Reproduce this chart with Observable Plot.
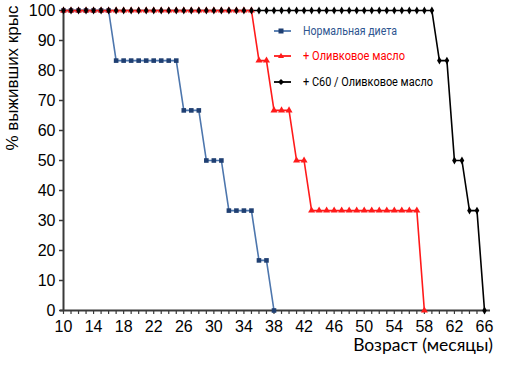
<!DOCTYPE html>
<html>
<head>
<meta charset="utf-8">
<script src="https://cdn.jsdelivr.net/npm/d3@7"></script>
<script src="https://cdn.jsdelivr.net/npm/@observablehq/plot@0.6"></script>
<style>
  html, body { margin: 0; padding: 0; background: #fff; }
  #wrap { position: relative; width: 512px; height: 384px; overflow: hidden; }
  #legend { position: absolute; left: 272px; top: 22px; font-family: Roboto, "Noto Sans", sans-serif; font-size: 12.5px; }
  #legend .row { position: absolute; left: 0; white-space: nowrap; height: 18px; line-height: 18px; }
  #legend svg { position: absolute; left: 0; top: 0; }
  #legend span { position: absolute; left: 31px; top: 0; transform-origin: 0 50%; display: inline-block; }
  #xtitle { position: absolute; right: 19px; top: 335px; font-family: Lato, Roboto, sans-serif; font-size: 17.5px; line-height: 20px; color: #000; white-space: nowrap; }
</style>
</head>
<body>
<div id="wrap"></div>
<script>
// Ages (months)
const monthsNormal = [10,11,12,13,14,15,16,17,18,19,20,21,22,23,24,25,26,27,28,29,30,31,32,33,34,35,36,37,38];
const survNormal   = [100,100,100,100,100,100,100,83.3,83.3,83.3,83.3,83.3,83.3,83.3,83.3,83.3,66.7,66.7,66.7,50,50,50,33.3,33.3,33.3,33.3,16.7,16.7,0];

const monthsOlive = [10,11,12,13,14,15,16,17,18,19,20,21,22,23,24,25,26,27,28,29,30,31,32,33,34,35,36,37,38,39,40,41,42,43,44,45,46,47,48,49,50,51,52,53,54,55,56,57,58];
const survOlive   = [100,100,100,100,100,100,100,100,100,100,100,100,100,100,100,100,100,100,100,100,100,100,100,100,100,100,83.3,83.3,66.7,66.7,66.7,50,50,33.3,33.3,33.3,33.3,33.3,33.3,33.3,33.3,33.3,33.3,33.3,33.3,33.3,33.3,33.3,0];

const monthsC60 = [10,11,12,13,14,15,16,17,18,19,20,21,22,23,24,25,26,27,28,29,30,31,32,33,34,35,36,37,38,39,40,41,42,43,44,45,46,47,48,49,50,51,52,53,54,55,56,57,58,59,60,61,62,63,64,65,66];
const survC60   = [100,100,100,100,100,100,100,100,100,100,100,100,100,100,100,100,100,100,100,100,100,100,100,100,100,100,100,100,100,100,100,100,100,100,100,100,100,100,100,100,100,100,100,100,100,100,100,100,100,100,83.3,83.3,50,50,33.3,33.3,0];

const seriesNames = ["Нормальная диета", "+ Оливковое масло", "+ C60 / Оливковое масло"];
const xTickMinor = [10,11,12,13,14,15,16,17,18,19,20,21,22,23,24,25,26,27,28,29,30,31,32,33,34,35,36,37,38,39,40,41,42,43,44,45,46,47,48,49,50,51,52,53,54,55,56,57,58,59,60,61,62,63,64,65,66];
const xTickLabels = [10,14,18,22,26,30,34,38,42,46,50,54,58,62,66];
const yTicks = [0,10,20,30,40,50,60,70,80,90,100];
const xTitle = "Возраст (месяцы)";
const yTitle = "% выживших крыс";

const toRows = (ms, vs) => ms.map((m, i) => ({month: m, surv: vs[i]}));
const dNormal = toRows(monthsNormal, survNormal);
const dOlive = toRows(monthsOlive, survOlive);
const dC60 = toRows(monthsC60, survC60);

const cBlueLine = "#4d76ad", cBlueMark = "#1f3f72", cRed = "#ff1a1a", cBlack = "#000000";
const axisColor = "#3a3a3a";
const tickFont = "'Liberation Sans', Arial, sans-serif";

const chart = Plot.plot({
  width: 512, height: 384,
  marginLeft: 63, marginRight: 28, marginTop: 10, marginBottom: 74,
  x: {domain: [10, 66], axis: null},
  y: {domain: [0, 100], axis: null},
  style: {fontFamily: tickFont, background: "transparent"},
  marks: [
    // axes
    Plot.axisY({ticks: yTicks, tickSize: 4, tickPadding: 4, fontSize: 16, stroke: axisColor, strokeWidth: 1.5, color: "#000", label: null}),
    Plot.axisX({ticks: xTickMinor, tickSize: 4, tickFormat: () => "", stroke: axisColor, strokeWidth: 1.2, label: null}),
    Plot.axisX({ticks: xTickLabels, tickSize: 0, tickPadding: 10, fontSize: 16, label: null}),
    Plot.ruleX([10], {y1: 0, y2: 100, stroke: axisColor, strokeWidth: 2}),
    Plot.ruleY([0], {x1: 9.6, x2: 66.8, stroke: axisColor, strokeWidth: 2}),
    // lines
    Plot.line(dNormal, {x: "month", y: "surv", stroke: cBlueLine, strokeWidth: 1.6}),
    Plot.line(dC60, {x: "month", y: "surv", stroke: cBlack, strokeWidth: 1.6}),
    Plot.line(dOlive, {x: "month", y: "surv", stroke: cRed, strokeWidth: 1.6}),
    // markers
    Plot.dot(dNormal, {x: "month", y: "surv", symbol: "square", r: 2.6, fill: cBlueMark, stroke: "none"}),
    Plot.dot(dOlive, {x: "month", y: "surv", symbol: "triangle", r: 2.6, fill: cRed, stroke: "none"}),
    Plot.dot(dC60, {x: "month", y: "surv", symbol: "diamond", r: 2.4, fill: cBlack, stroke: "none"}),
    // y title
    Plot.text([yTitle], {frameAnchor: "left", dx: -51, dy: -10, rotate: -90, fontSize: 17, fill: "#000"}),
  ]
});

const wrap = document.getElementById("wrap");
wrap.appendChild(chart);

// x title
const xt = document.createElement("div");
xt.id = "xtitle";
xt.textContent = xTitle;
wrap.appendChild(xt);

// legend
const legend = document.createElement("div");
legend.id = "legend";
const legendColors = [[cBlueLine, cBlueMark, "#2e5590", "square"], [cRed, cRed, "#ff0000", "triangle"], [cBlack, cBlack, "#000000", "diamond"]];
const legendTops = [0, 25, 51];
const legendTextWidths = [94, 102, 130]; // layout: text widths seen in the reference
const spans = [];
seriesNames.forEach((name, i) => {
  const [lc, mc, tc, sym] = legendColors[i];
  const row = document.createElement("div");
  row.className = "row";
  row.style.top = legendTops[i] + "px";
  let mark;
  if (sym === "square") mark = `<rect x="6.5" y="6.5" width="5" height="5" fill="${mc}"/>`;
  else if (sym === "triangle") mark = `<path d="M9,5.8 L12,11 L6,11 Z" fill="${mc}"/>`;
  else mark = `<path d="M9,6 L12,9 L9,12 L6,9 Z" fill="${mc}"/>`;
  row.innerHTML = `<svg width="20" height="18"><line x1="2" x2="19" y1="9" y2="9" stroke="${lc}" stroke-width="1.8"/>${mark}</svg><span style="color:${tc}">${name}</span>`;
  legend.appendChild(row);
  spans.push(row.querySelector("span"));
});
wrap.appendChild(legend);
// stretch each legend text horizontally to the width seen in the reference
spans.forEach((s, i) => {
  const w = s.getBoundingClientRect().width;
  if (w > 0) s.style.transform = `scaleX(${(legendTextWidths[i] / w).toFixed(3)})`;
});
</script>
</body>
</html>
